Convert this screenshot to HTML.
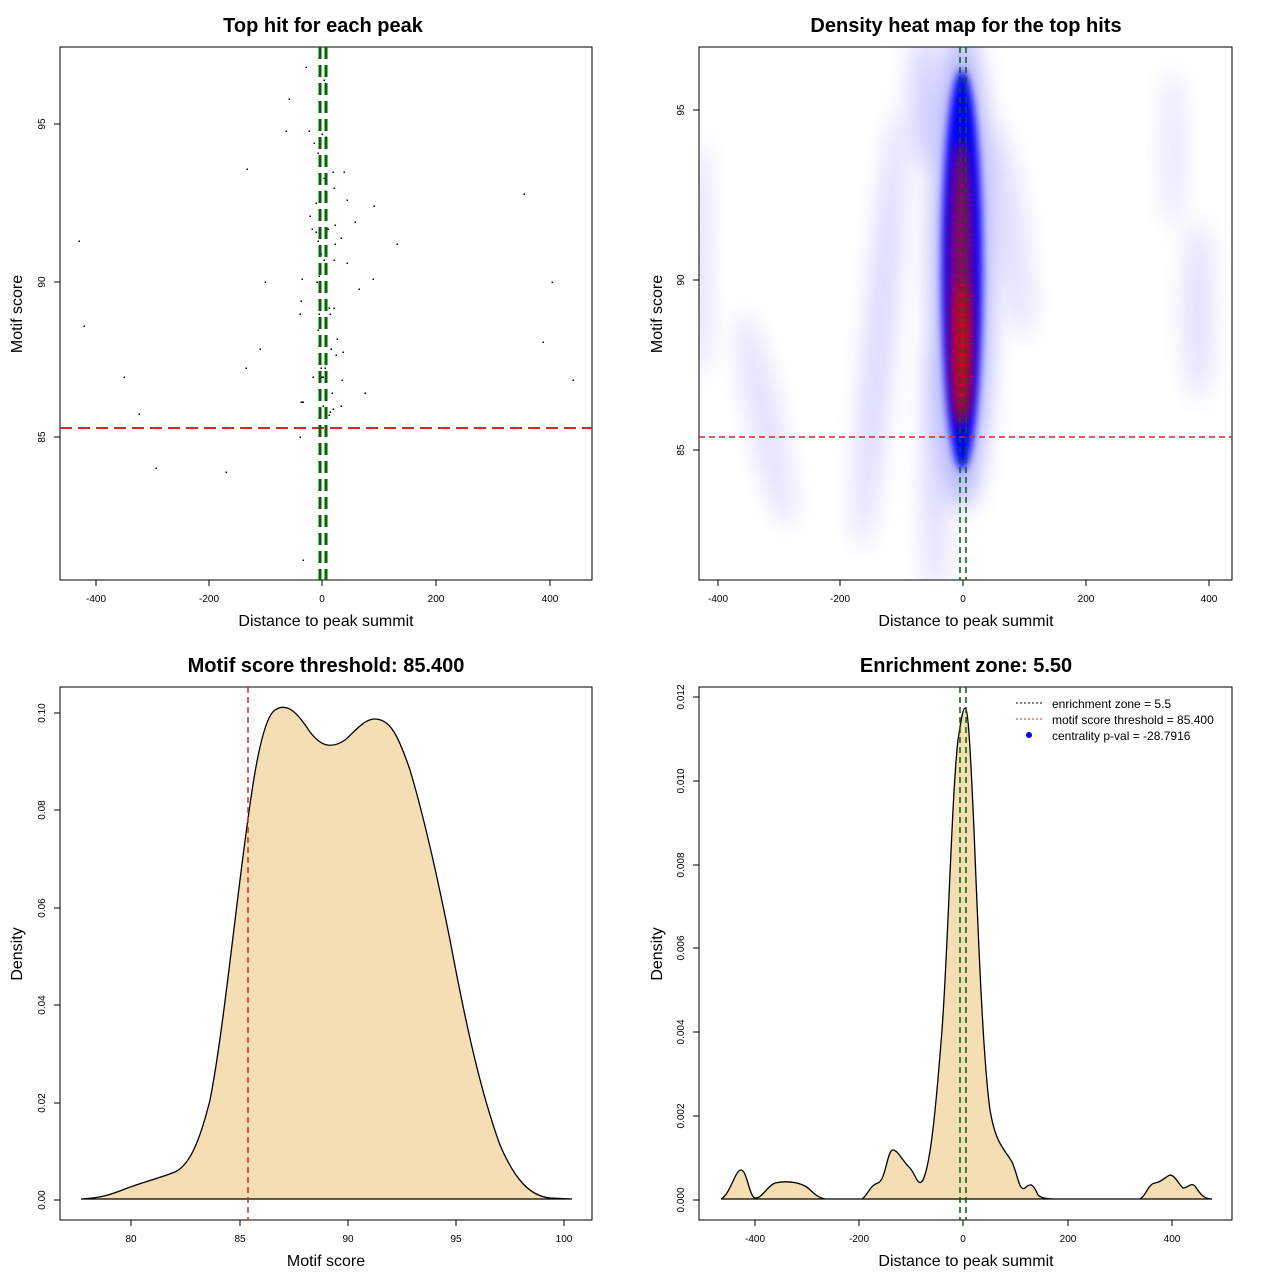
<!DOCTYPE html>
<html><head><meta charset="utf-8"><style>
html,body{margin:0;padding:0;background:#fff}
svg{display:block}
text{font-family:"Liberation Sans",Arial,sans-serif;fill:#000}
.t{font-size:20px;font-weight:bold}
.al{font-size:16px}
.tk{font-size:10px}
</style></head><body>
<svg width="1280" height="1280" viewBox="0 0 1280 1280" xmlns="http://www.w3.org/2000/svg">
<defs>
<filter id="b4" x="-1" y="-1" width="3" height="3"><feGaussianBlur stdDeviation="4"/></filter>
<filter id="b6" x="-1" y="-1" width="3" height="3"><feGaussianBlur stdDeviation="6"/></filter>
<filter id="b12" x="-1" y="-1" width="3" height="3"><feGaussianBlur stdDeviation="12"/></filter>
<filter id="b18" x="-1" y="-1" width="3" height="3"><feGaussianBlur stdDeviation="18"/></filter>
<clipPath id="c2"><rect x="699" y="47" width="533" height="533"/></clipPath>
</defs>

<!-- Panel 1 -->
<text class="t" x="323" y="32" text-anchor="middle">Top hit for each peak</text>
<rect x="60" y="47" width="532" height="533" fill="none" stroke="#000"/>
<g stroke="#000">
<line x1="96" y1="580" x2="96" y2="586"/><line x1="209" y1="580" x2="209" y2="586"/><line x1="322" y1="580" x2="322" y2="586"/><line x1="436" y1="580" x2="436" y2="586"/><line x1="550" y1="580" x2="550" y2="586"/>
<line x1="54" y1="124" x2="60" y2="124"/><line x1="54" y1="282" x2="60" y2="282"/><line x1="54" y1="437" x2="60" y2="437"/>
</g>
<g class="tk" text-anchor="middle">
<text x="96" y="602">-400</text><text x="209" y="602">-200</text><text x="322" y="602">0</text><text x="436" y="602">200</text><text x="550" y="602">400</text>
</g>
<text class="tk" transform="translate(45,124) rotate(-90)" text-anchor="middle">95</text>
<text class="tk" transform="translate(45,282) rotate(-90)" text-anchor="middle">90</text>
<text class="tk" transform="translate(45,437) rotate(-90)" text-anchor="middle">85</text>
<text class="al" x="326" y="626" text-anchor="middle">Distance to peak summit</text>
<text class="al" transform="translate(22,314) rotate(-90)" text-anchor="middle">Motif score</text>
<g fill="#000">
<rect x="305.5" y="66.5" width="1.5" height="1.5"/><rect x="323.5" y="79.5" width="1.5" height="1.5"/><rect x="288.5" y="98.5" width="1.5" height="1.5"/><rect x="285.5" y="130.5" width="1.5" height="1.5"/><rect x="308.5" y="130.5" width="1.5" height="1.5"/><rect x="321.5" y="133.5" width="1.5" height="1.5"/><rect x="325.5" y="136.5" width="1.5" height="1.5"/><rect x="313.5" y="142.5" width="1.5" height="1.5"/><rect x="324.5" y="142.5" width="1.5" height="1.5"/><rect x="317.5" y="152.5" width="1.5" height="1.5"/><rect x="246.5" y="168.5" width="1.5" height="1.5"/><rect x="332.5" y="171.5" width="1.5" height="1.5"/><rect x="343.5" y="171.5" width="1.5" height="1.5"/><rect x="323.5" y="177.5" width="1.5" height="1.5"/><rect x="333.5" y="187.5" width="1.5" height="1.5"/><rect x="324.5" y="190.5" width="1.5" height="1.5"/><rect x="346.5" y="199.5" width="1.5" height="1.5"/><rect x="315.5" y="202.5" width="1.5" height="1.5"/><rect x="373.5" y="205.5" width="1.5" height="1.5"/><rect x="309.5" y="215.5" width="1.5" height="1.5"/><rect x="354.5" y="221.5" width="1.5" height="1.5"/><rect x="334.5" y="224.5" width="1.5" height="1.5"/><rect x="311.5" y="228.5" width="1.5" height="1.5"/><rect x="327.5" y="228.5" width="1.5" height="1.5"/><rect x="315.5" y="231.5" width="1.5" height="1.5"/><rect x="340.5" y="237.5" width="1.5" height="1.5"/><rect x="317.5" y="240.5" width="1.5" height="1.5"/><rect x="334.5" y="243.5" width="1.5" height="1.5"/><rect x="396.5" y="243.5" width="1.5" height="1.5"/><rect x="320.5" y="253.5" width="1.5" height="1.5"/><rect x="323.5" y="259.5" width="1.5" height="1.5"/><rect x="333.5" y="259.5" width="1.5" height="1.5"/><rect x="346.5" y="262.5" width="1.5" height="1.5"/><rect x="301.5" y="278.5" width="1.5" height="1.5"/><rect x="318.5" y="275.5" width="1.5" height="1.5"/><rect x="264.5" y="281.5" width="1.5" height="1.5"/><rect x="316.5" y="281.5" width="1.5" height="1.5"/><rect x="372.5" y="278.5" width="1.5" height="1.5"/><rect x="358.5" y="288.5" width="1.5" height="1.5"/><rect x="300.5" y="300.5" width="1.5" height="1.5"/><rect x="328.5" y="307.5" width="1.5" height="1.5"/><rect x="333.5" y="307.5" width="1.5" height="1.5"/><rect x="299.5" y="313.5" width="1.5" height="1.5"/><rect x="318.5" y="313.5" width="1.5" height="1.5"/><rect x="329.5" y="313.5" width="1.5" height="1.5"/><rect x="317.5" y="329.5" width="1.5" height="1.5"/><rect x="336.5" y="338.5" width="1.5" height="1.5"/><rect x="324.5" y="341.5" width="1.5" height="1.5"/><rect x="259.5" y="348.5" width="1.5" height="1.5"/><rect x="330.5" y="348.5" width="1.5" height="1.5"/><rect x="342.5" y="351.5" width="1.5" height="1.5"/><rect x="335.5" y="354.5" width="1.5" height="1.5"/><rect x="245.5" y="367.5" width="1.5" height="1.5"/><rect x="320.5" y="367.5" width="1.5" height="1.5"/><rect x="324.5" y="367.5" width="1.5" height="1.5"/><rect x="312.5" y="376.5" width="1.5" height="1.5"/><rect x="321.5" y="376.5" width="2.5" height="1.5"/><rect x="341.5" y="379.5" width="1.5" height="1.5"/><rect x="331.5" y="392.5" width="1.5" height="1.5"/><rect x="364.5" y="392.5" width="1.5" height="1.5"/><rect x="300.5" y="401.5" width="3.5" height="1.5"/><rect x="322.5" y="405.5" width="1.5" height="1.5"/><rect x="332.5" y="408.5" width="1.5" height="1.5"/><rect x="340.5" y="405.5" width="1.5" height="1.5"/><rect x="329.5" y="411.5" width="1.5" height="1.5"/><rect x="328.5" y="414.5" width="1.5" height="1.5"/><rect x="299.5" y="436.5" width="1.5" height="1.5"/><rect x="302.5" y="559.5" width="1.5" height="1.5"/>
<rect x="78.5" y="240.5" width="1.5" height="1.5"/><rect x="83.5" y="325.5" width="1.5" height="1.5"/><rect x="123.5" y="376.5" width="1.5" height="1.5"/><rect x="138.5" y="413.5" width="1.5" height="1.5"/><rect x="155.5" y="467.5" width="1.5" height="1.5"/><rect x="225.5" y="471.5" width="1.5" height="1.5"/><rect x="523.5" y="193.5" width="1.5" height="1.5"/><rect x="551.5" y="281.5" width="1.5" height="1.5"/><rect x="542.5" y="341.5" width="1.5" height="1.5"/><rect x="572.5" y="379.5" width="1.5" height="1.5"/>
</g>
<line x1="60" y1="428" x2="592" y2="428" stroke="#d62728" stroke-width="2" stroke-dasharray="12,6"/>
<line x1="320" y1="47" x2="320" y2="580" stroke="#006400" stroke-width="3" stroke-dasharray="12,6"/>
<line x1="326" y1="47" x2="326" y2="580" stroke="#006400" stroke-width="3" stroke-dasharray="12,6"/>

<!-- Panel 2 -->
<text class="t" x="966" y="32" text-anchor="middle">Density heat map for the top hits</text>
<g clip-path="url(#c2)">
<g fill="#c8c8ff">
<ellipse cx="700" cy="260" rx="8" ry="120" filter="url(#b12)" opacity="0.8"/>
<ellipse cx="765" cy="420" rx="15" ry="110" transform="rotate(-12 765 420)" filter="url(#b12)" opacity="0.6"/>
<ellipse cx="880" cy="330" rx="13" ry="220" transform="rotate(5 880 330)" filter="url(#b12)" opacity="0.8"/>
<ellipse cx="935" cy="470" rx="12" ry="130" filter="url(#b12)" opacity="0.7"/>
<ellipse cx="1010" cy="230" rx="15" ry="110" transform="rotate(-8 1010 230)" filter="url(#b12)" opacity="0.6"/>
<ellipse cx="1173" cy="150" rx="9" ry="80" filter="url(#b12)" opacity="0.6"/>
<ellipse cx="1198" cy="310" rx="12" ry="90" filter="url(#b12)" opacity="0.7"/>
<ellipse cx="925" cy="100" rx="16" ry="70" filter="url(#b12)" opacity="0.8"/>
</g>
<ellipse cx="962" cy="270" rx="30" ry="240" fill="#9a9aff" filter="url(#b12)" opacity="0.8"/>
<ellipse cx="962" cy="270" rx="20" ry="200" fill="#0000ff" filter="url(#b4)"/>
<ellipse cx="961" cy="285" rx="11" ry="145" fill="#9a0060" filter="url(#b6)"/>
<ellipse cx="962" cy="350" rx="7" ry="70" fill="#e00010" filter="url(#b6)"/>
</g>
<rect x="699" y="47" width="533" height="533" fill="none" stroke="#000"/>
<g stroke="#000">
<line x1="718" y1="580" x2="718" y2="586"/><line x1="840" y1="580" x2="840" y2="586"/><line x1="963" y1="580" x2="963" y2="586"/><line x1="1086" y1="580" x2="1086" y2="586"/><line x1="1209" y1="580" x2="1209" y2="586"/>
<line x1="693" y1="110" x2="699" y2="110"/><line x1="693" y1="280" x2="699" y2="280"/><line x1="693" y1="450" x2="699" y2="450"/>
</g>
<g class="tk" text-anchor="middle">
<text x="718" y="602">-400</text><text x="840" y="602">-200</text><text x="963" y="602">0</text><text x="1086" y="602">200</text><text x="1209" y="602">400</text>
</g>
<text class="tk" transform="translate(684,110) rotate(-90)" text-anchor="middle">95</text>
<text class="tk" transform="translate(684,280) rotate(-90)" text-anchor="middle">90</text>
<text class="tk" transform="translate(684,450) rotate(-90)" text-anchor="middle">85</text>
<text class="al" x="966" y="626" text-anchor="middle">Distance to peak summit</text>
<text class="al" transform="translate(662,314) rotate(-90)" text-anchor="middle">Motif score</text>
<line x1="699" y1="437" x2="1232" y2="437" stroke="#d62728" stroke-width="1.5" stroke-dasharray="6,4"/>
<line x1="960" y1="47" x2="960" y2="580" stroke="#006400" stroke-width="1.5" stroke-dasharray="6,4"/>
<line x1="966" y1="47" x2="966" y2="580" stroke="#006400" stroke-width="1.5" stroke-dasharray="6,4"/>

<!-- Panel 3 -->
<text class="t" x="326" y="672" text-anchor="middle">Motif score threshold: 85.400</text>
<rect x="60" y="687" width="532" height="533" fill="none" stroke="#000"/>
<path d="M81,1199 C100,1198 110,1195 125,1189 C140,1183 160,1178 175,1172 C190,1165 200,1140 210,1100 C220,1050 230,960 240,880 C250,800 260,720 275,710 C287,702 297,712 310,732 C320,745 330,750 345,740 C358,728 365,719 375,719 C390,719 398,735 410,770 C425,820 438,880 450,940 C465,1020 480,1090 500,1145 C515,1180 530,1196 550,1198 L572,1199 Z" fill="#f5deb3" stroke="#000" stroke-width="1.3"/>
<line x1="248" y1="687" x2="248" y2="1220" stroke="#d62728" stroke-width="1.5" stroke-dasharray="6,4"/>
<g stroke="#000">
<line x1="131" y1="1220" x2="131" y2="1226"/><line x1="240" y1="1220" x2="240" y2="1226"/><line x1="348" y1="1220" x2="348" y2="1226"/><line x1="456" y1="1220" x2="456" y2="1226"/><line x1="564" y1="1220" x2="564" y2="1226"/>
<line x1="54" y1="1200" x2="60" y2="1200"/><line x1="54" y1="1103" x2="60" y2="1103"/><line x1="54" y1="1005" x2="60" y2="1005"/><line x1="54" y1="908" x2="60" y2="908"/><line x1="54" y1="810" x2="60" y2="810"/><line x1="54" y1="713" x2="60" y2="713"/>
</g>
<g class="tk" text-anchor="middle">
<text x="131" y="1242">80</text><text x="240" y="1242">85</text><text x="348" y="1242">90</text><text x="456" y="1242">95</text><text x="564" y="1242">100</text>
</g>
<text class="tk" transform="translate(45,1200) rotate(-90)" text-anchor="middle">0.00</text>
<text class="tk" transform="translate(45,1103) rotate(-90)" text-anchor="middle">0.02</text>
<text class="tk" transform="translate(45,1005) rotate(-90)" text-anchor="middle">0.04</text>
<text class="tk" transform="translate(45,908) rotate(-90)" text-anchor="middle">0.06</text>
<text class="tk" transform="translate(45,810) rotate(-90)" text-anchor="middle">0.08</text>
<text class="tk" transform="translate(45,713) rotate(-90)" text-anchor="middle">0.10</text>
<text class="al" x="326" y="1266" text-anchor="middle">Motif score</text>
<text class="al" transform="translate(22,954) rotate(-90)" text-anchor="middle">Density</text>

<!-- Panel 4 -->
<text class="t" x="966" y="672" text-anchor="middle">Enrichment zone: 5.50</text>
<rect x="699" y="687" width="533" height="533" fill="none" stroke="#000"/>
<path d="M721,1199 C730,1195 735,1170 741,1170 C747,1170 749,1196 755,1198 C762,1199 767,1186 775,1183 C785,1181 795,1181 805,1186 C812,1190 815,1197 825,1199 L862,1199 C868,1195 870,1185 878,1183 C886,1180 887,1150 893,1150 C898,1150 903,1162 910,1168 C916,1175 918,1188 923,1180 C930,1165 935,1120 942,1030 C948,950 952,790 958,740 C961,720 963,708 965,708 C968,708 970,740 974,830 C978,930 983,1060 990,1110 C996,1145 1004,1148 1012,1162 C1018,1175 1019,1192 1025,1188 C1030,1183 1033,1183 1038,1195 C1042,1199 1050,1199 1060,1199 L1140,1199 C1146,1196 1148,1184 1155,1183 C1160,1182 1162,1180 1168,1176 C1174,1172 1178,1184 1183,1188 C1188,1188 1191,1182 1195,1186 C1200,1194 1204,1199 1212,1199 Z" fill="#f5deb3" stroke="#000" stroke-width="1.3"/>
<line x1="960" y1="687" x2="960" y2="1220" stroke="#006400" stroke-width="1.5" stroke-dasharray="6,4"/>
<line x1="966" y1="687" x2="966" y2="1220" stroke="#006400" stroke-width="1.5" stroke-dasharray="6,4"/>
<g stroke="#000">
<line x1="755" y1="1220" x2="755" y2="1226"/><line x1="859" y1="1220" x2="859" y2="1226"/><line x1="963" y1="1220" x2="963" y2="1226"/><line x1="1068" y1="1220" x2="1068" y2="1226"/><line x1="1172" y1="1220" x2="1172" y2="1226"/>
<line x1="693" y1="1200" x2="699" y2="1200"/><line x1="693" y1="1116" x2="699" y2="1116"/><line x1="693" y1="1032" x2="699" y2="1032"/><line x1="693" y1="948" x2="699" y2="948"/><line x1="693" y1="865" x2="699" y2="865"/><line x1="693" y1="781" x2="699" y2="781"/><line x1="693" y1="697" x2="699" y2="697"/>
</g>
<g class="tk" text-anchor="middle">
<text x="755" y="1242">-400</text><text x="859" y="1242">-200</text><text x="963" y="1242">0</text><text x="1068" y="1242">200</text><text x="1172" y="1242">400</text>
</g>
<text class="tk" transform="translate(684,1200) rotate(-90)" text-anchor="middle">0.000</text>
<text class="tk" transform="translate(684,1116) rotate(-90)" text-anchor="middle">0.002</text>
<text class="tk" transform="translate(684,1032) rotate(-90)" text-anchor="middle">0.004</text>
<text class="tk" transform="translate(684,948) rotate(-90)" text-anchor="middle">0.006</text>
<text class="tk" transform="translate(684,865) rotate(-90)" text-anchor="middle">0.008</text>
<text class="tk" transform="translate(684,781) rotate(-90)" text-anchor="middle">0.010</text>
<text class="tk" transform="translate(684,697) rotate(-90)" text-anchor="middle">0.012</text>
<text class="al" x="966" y="1266" text-anchor="middle">Distance to peak summit</text>
<text class="al" transform="translate(662,954) rotate(-90)" text-anchor="middle">Density</text>
<line x1="1016" y1="703" x2="1042" y2="703" stroke="#000" stroke-dasharray="2,2"/>
<line x1="1016" y1="719" x2="1042" y2="719" stroke="#d62728" stroke-dasharray="2,2"/>
<circle cx="1029" cy="735" r="3" fill="#0000ff"/>
<text x="1052" y="708" font-size="12">enrichment zone = 5.5</text>
<text x="1052" y="724" font-size="12">motif score threshold = 85.400</text>
<text x="1052" y="740" font-size="12">centrality p-val = -28.7916</text>
</svg>
</body></html>
